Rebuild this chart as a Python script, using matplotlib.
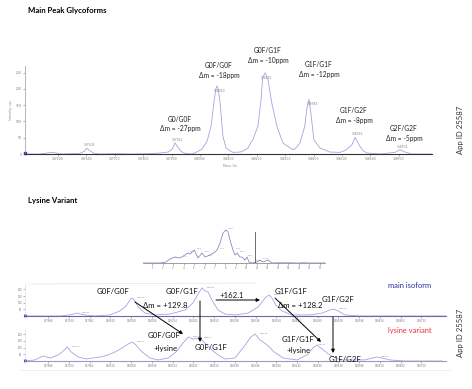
import matplotlib.pyplot as plt

W, H = 472, 389

# ---------------- top: deconvoluted main peak (mass, intensity)
top_mass = [147384, 147437, 147479, 147514, 147578, 147592, 147602, 147613, 147627,
            147648, 147704, 147754, 147824, 147859, 147888, 147902, 147912, 147923,
            147937, 147951, 147972, 147986, 148007, 148025, 148039, 148049, 148056,
            148060, 148064, 148071, 148081, 148092, 148116, 148141, 148148, 148169,
            148176, 148186, 148204, 148215, 148221, 148229, 148239, 148253, 148271,
            148292, 148327, 148334, 148352, 148369, 148376, 148384, 148392, 148401,
            148423, 148458, 148493, 148514, 148535, 148546, 148560, 148574, 148588,
            148634, 148687, 148704, 148722, 148746, 148817]
top_int = [0, 0, 5, 0, 2, 8, 18, 10, 2,
           0, 1, 0, 1, 3, 6, 15, 34, 20,
           6, 1, 0, 5, 15, 39, 85, 156, 200,
           209, 200, 156, 54, 18, 5, 6, 8, 18,
           30, 44, 85, 166, 235, 249, 232, 156, 85,
           34, 13, 15, 34, 85, 137, 168, 115, 44,
           18, 6, 5, 12, 28, 51, 28, 10, 3,
           0, 5, 13, 6, 0, 0]
top_peaks = [147602, 147912, 148060, 148225, 148384, 148546, 148704]
top_peak_h = [18, 34, 209, 249, 168, 51, 13]
top_ticks = [147500, 147600, 147700, 147800, 147900, 148000, 148100, 148200,
             148300, 148400, 148500, 148600, 148700]
top_yticks = [0, 50, 100, 150, 200, 250]

# ---------------- middle: chromatogram (time, signal)
lc_time = [0.14, 1.76, 2.33, 2.71, 3.19, 3.67, 4.14, 4.43, 4.62, 4.81, 5.03, 5.38,
           5.76, 6.05, 6.52, 7.0, 7.19, 7.48, 7.76, 8.05, 8.24, 8.43, 8.71, 8.9,
           9.1, 9.38, 9.57, 9.86, 10.05, 10.24, 10.52, 11.0, 11.29, 11.57, 12.05,
           12.43, 17.48]
lc_sig = [0, 0, 1, 4, 6, 5, 8, 10, 9, 11, 13, 5,
          10, 6, 8, 11, 13, 20, 30, 33, 31, 23, 13, 8,
          10, 6, 6, 3, 6, 1, 0, 1, 3, 1, 3,
          0, 0]
lc_labels = [2.7, 3.7, 4.4, 5.0, 5.8, 6.1, 7.2, 8.1, 8.7, 9.1, 9.9, 10.6, 11.3]
lc_label_h = [4, 5, 10, 13, 10, 6, 13, 33, 13, 10, 6, 1, 3]

# ---------------- bottom: main isoform vs lysine variant (mass, intensity)
iso_mass = [147812, 147893, 147916, 147933, 147949, 147974, 148009, 148032, 148046,
            148055, 148060, 148065, 148074, 148090, 148113, 148148, 148183, 148201,
            148213, 148222, 148229, 148236, 148245, 148259, 148275, 148298, 148329,
            148352, 148368, 148377, 148384, 148393, 148407, 148430, 148472, 148500,
            148518, 148528, 148537, 148553, 148588, 148787]
iso_int = [0, 0, 8, 22, 8, 0, 8, 38, 75,
           120, 135, 120, 68, 22, 8, 15, 45, 98,
           165, 210, 188, 180, 120, 45, 15, 8, 22,
           68, 135, 158, 135, 82, 38, 8, 8, 22,
           45, 52, 38, 8, 0, 0]
lys_mass = [147812, 147835, 147854, 147870, 147889, 147903, 147910, 147919, 147935,
            147954, 147967, 147986, 148004, 148021, 148037, 148051, 148060, 148069,
            148083, 148102, 148120, 148143, 148162, 148178, 148190, 148201, 148217,
            148231, 148245, 148259, 148275, 148298, 148322, 148335, 148345, 148356,
            148373, 148389, 148410, 148442, 148465, 148479, 148488, 148500, 148518,
            148542, 148599, 148616, 148627, 148639, 148657, 148692, 148778]
lys_int = [0, 8, 38, 22, 45, 82, 105, 68, 30,
           15, 22, 30, 45, 68, 98, 128, 142, 120,
           68, 22, 8, 22, 68, 135, 180, 165, 172,
           128, 82, 45, 15, 22, 120, 180, 202, 158,
           120, 68, 22, 8, 45, 98, 120, 90, 45,
           8, 8, 22, 30, 22, 8, 0, 0]
iso_peaks = [147933, 148060, 148222, 148377, 148528]
iso_peak_h = [22, 135, 210, 158, 52]
lys_peaks = [147910, 148060, 148190, 148217, 148345, 148479, 148627]
lys_peak_h = [105, 142, 180, 172, 202, 120, 30]
low_ticks = [147866, 147914, 147962, 148010, 148058, 148106, 148154, 148202, 148250,
             148298, 148346, 148394, 148442, 148490, 148538, 148586, 148634, 148682,
             148730]
low_yticks = [50, 100, 150, 200]

LINE = '#a3a3e2'
TINY = 2.2
FONT = ['Lato', 'DejaVu Sans']


def rect(x0, x1, ytop, ybot):
    return [x0 / W, 1 - ybot / H, (x1 - x0) / W, (ybot - ytop) / H]


def tidy(ax, left=True):
    for s in ['top', 'right']:
        ax.spines[s].set_visible(False)
    ax.spines['left'].set_visible(left)
    ax.spines['left'].set_color('#999999')
    ax.spines['left'].set_linewidth(0.5)
    ax.spines['bottom'].set_linewidth(0.8)
    ax.tick_params(labelsize=TINY, length=1.2, width=0.4, pad=1, colors='#777777')
    ax.patch.set_alpha(0)


fig = plt.figure(figsize=(W / 100, H / 100), dpi=100)

# top spectrum
ax1 = fig.add_axes(rect(25, 432, 66, 154))
ax1.plot(top_mass, top_int, color=LINE, lw=0.6)
ax1.set_xlim(147384, 148817)
ax1.set_ylim(0, 270)
ax1.set_xticks(top_ticks)
ax1.set_xticklabels([str(t) for t in top_ticks])
ax1.set_yticks(top_yticks)
tidy(ax1)
ax1.spines['bottom'].set_color('#333333')
ax1.plot([147384], [4], marker='s', ms=1.6, color='#2233cc', clip_on=False)
for m, h in zip(top_peaks, top_peak_h):
    ax1.text(m + 10, h - 18 if h > 150 else h + 6, str(m), fontsize=TINY,
             color='#888888', ha='center')
ax1.set_ylabel('Intensity, cps', fontsize=TINY, color='#888888', labelpad=2)

# chromatogram
ax2 = fig.add_axes(rect(143, 325, 228, 263))
ax2.plot(lc_time, lc_sig, color='#8080c0', lw=0.55)
ax2.plot([12.7, 14.4], [0.3, 0.3], color='#5555aa', lw=1.0)
ax2.plot([15.1, 15.6], [0.3, 0.3], color='#5555aa', lw=1.0)
ax2.plot([10.8, 10.8], [0, 31], color='#555555', lw=0.6)
ax2.set_xlim(0.14, 17.48)
ax2.set_ylim(0, 35)
ax2.set_xticks(range(1, 18))
ax2.set_yticks([])
tidy(ax2, left=False)
ax2.tick_params(labelsize=1.8)
ax2.spines['bottom'].set_color('#777777')
ax2.spines['bottom'].set_linewidth(0.5)
for t, h in zip(lc_labels, lc_label_h):
    ax2.text(t + 0.25, h + 1, '%.2f' % t, fontsize=1.6, color='#888888')

# main isoform / lysine variant spectra
for box, mass, inten, peaks, ph, col in [
        ((25, 446, 284, 316), iso_mass, iso_int, iso_peaks, iso_peak_h, '#6a6aa6'),
        ((25, 446, 329, 361), lys_mass, lys_int, lys_peaks, lys_peak_h, '#9a9ac4')]:
    ax = fig.add_axes(rect(*box))
    ax.plot(mass, inten, color=LINE, lw=0.6)
    ax.set_xlim(147812, 148787)
    ax.set_ylim(0, 240)
    ax.set_xticks(low_ticks)
    ax.set_xticklabels([str(t) for t in low_ticks])
    ax.set_yticks(low_yticks)
    tidy(ax)
    ax.tick_params(labelsize=1.8)
    ax.spines['left'].set_color('#dddddd')
    ax.spines['bottom'].set_color(col)
    ax.plot([147812], [8], marker='^', ms=1.6, color='#2233cc', clip_on=False)
    for m, h in zip(peaks, ph):
        ax.text(m + 10, h + 2, str(m), fontsize=1.6, color='#888888')

# overlay in pixel coordinates for titles and annotations
ov = fig.add_axes([0, 0, 1, 1])
ov.set_xlim(0, W)
ov.set_ylim(H, 0)
ov.axis('off')

ov.text(28, 10, 'Main Peak Glycoforms', fontsize=5.6, fontweight='bold', family=FONT, va='center')
ov.text(28, 200, 'Lysine Variant', fontsize=5.6, fontweight='bold', family=FONT, va='center')
ov.text(230, 167, 'Mass, Da', fontsize=TINY, color='#888888', ha='center')

top_notes = [('G0/G0F', '\u0394m = -27ppm', 180, 119),
             ('G0F/G0F', '\u0394m = -18ppm', 219, 65),
             ('G0F/G1F', '\u0394m = -10ppm', 268, 50),
             ('G1F/G1F', '\u0394m = -12ppm', 319, 64),
             ('G1F/G2F', '\u0394m = -8ppm', 354, 110),
             ('G2F/G2F', '\u0394m = -5ppm', 404, 128)]
for g, d, x, y in top_notes:
    ov.text(x, y, g, fontsize=4.8, family=FONT, ha='center', va='center', color='#222222')
    ov.text(x, y + 10, d, fontsize=4.8, family=FONT, ha='center', va='center', color='#222222')

for y in (130, 333):
    ov.text(461, y, 'App ID 25587', fontsize=5.6, family=FONT, rotation=90,
            ha='center', va='center', color='#333333')

big = dict(fontsize=5.6, family=FONT, ha='center', va='center', color='#111111')
ov.text(113, 292, 'G0F/G0F', **big)
ov.text(182, 292, 'G0F/G1F', **big)
ov.text(165, 305, '\u0394m = +129.8', **big)
ov.text(232, 295, '+162.1', **big)
ov.text(291, 292, 'G1F/G1F', **big)
ov.text(300, 305, '\u0394m = +128.2', **big)
ov.text(338, 299, 'G1F/G2F', **big)
ov.text(164, 335, 'G0F/G0F', **big)
ov.text(166, 348, '+lysine', **big)
ov.text(211, 348, 'G0F/G1F', **big)
ov.text(298, 340, 'G1F/G1F', **big)
ov.text(299, 351, '+lysine', **big)
ov.text(345, 360, 'G1F/G2F', **big)
ov.text(410, 286, 'main isoform', fontsize=5.4, family=FONT, ha='center', va='center', color='#2a2aa8')
ov.text(410, 331, 'lysine variant', fontsize=5.4, family=FONT, ha='center', va='center', color='#e8323c')

arrow = dict(arrowstyle='-|>', color='black', lw=0.7, mutation_scale=5, shrinkA=0, shrinkB=0)
ov.annotate('', xy=(183, 334), xytext=(135, 302), arrowprops=arrow)
ov.annotate('', xy=(200, 342), xytext=(200, 301), arrowprops=arrow)
ov.annotate('', xy=(260, 300), xytext=(216, 300), arrowprops=arrow)
ov.annotate('', xy=(321, 342), xytext=(275, 298), arrowprops=arrow)
ov.annotate('', xy=(333, 353), xytext=(333, 317), arrowprops=arrow)

# faint frame lines of the pasted screenshots
ov.plot([30, 255], [284, 283], color='#e4e4e4', lw=0.5)
ov.plot([20, 450], [370, 370], color='#e8e8e8', lw=0.5)

fig.savefig('out.png', dpi=100)
